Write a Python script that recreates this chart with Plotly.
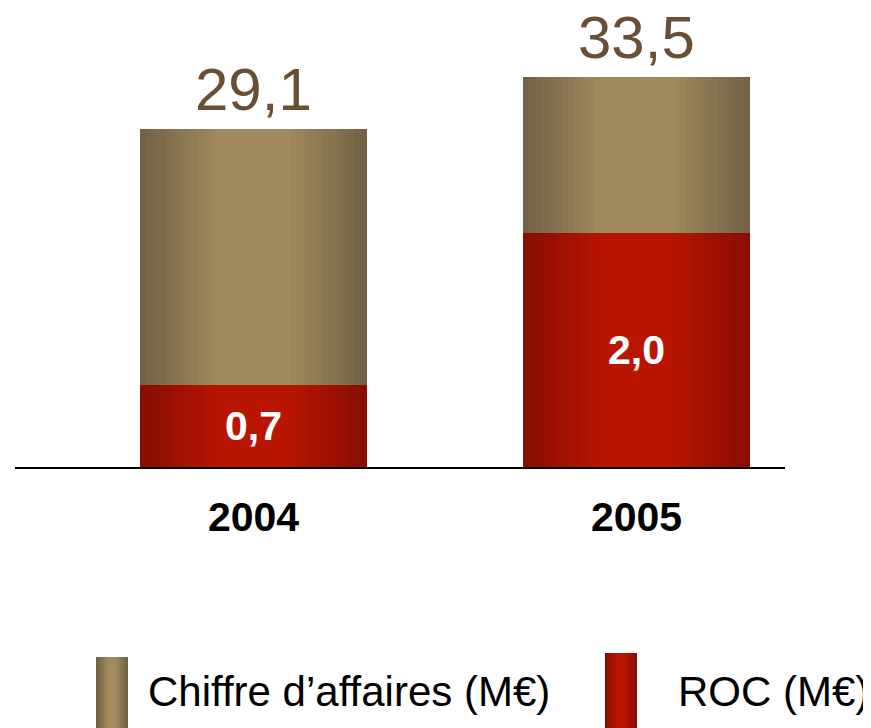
import plotly.graph_objects as go

# Données
annees = ["2004", "2005"]
chiffre_affaires = [29.1, 33.5]
roc = [0.7, 2.0]
labels_ca = ["29,1", "33,5"]
labels_roc = ["0,7", "2,0"]

# Style
LARGEUR = 0.593
N_COUCHES = 16
TAN_BORD, TAN_CENTRE = "#736245", "#a18a5d"
ROUGE_BORD, ROUGE_CENTRE = "#890d02", "#b91503"
POLICE = "Liberation Sans, Arial, sans-serif"

# La page décale la figure de 8 px (marge du body) : on compense ici
DECALAGE = 8
BASE_PX = 467          # ligne de base dans la fenêtre
GAUCHE_PX, DROITE_PX = 15, 785
HAUT_TRACE = BASE_PX - DECALAGE


def melange(c1, c2, t):
    a = [int(c1[i:i + 2], 16) for i in (1, 3, 5)]
    b = [int(c2[i:i + 2], 16) for i in (1, 3, 5)]
    return "rgb({},{},{})".format(*[round(x + (y - x) * t) for x, y in zip(a, b)])


x = list(range(len(annees)))
fig = go.Figure()

# Effet cylindre : couches superposées de plus en plus étroites et claires
for serie, axe, bord, centre in [(chiffre_affaires, "y", TAN_BORD, TAN_CENTRE),
                                 (roc, "y2", ROUGE_BORD, ROUGE_CENTRE)]:
    for k in range(N_COUCHES):
        t = k / (N_COUCHES - 1)
        fig.add_trace(go.Bar(
            x=x, y=serie, yaxis=axe, width=LARGEUR * (1 - 0.85 * t),
            marker=dict(color=melange(bord, centre, min(1, t * 1.25)), line=dict(width=0)),
            showlegend=False, hoverinfo="skip",
        ))

# Valeurs du ROC, au milieu des barres rouges
fig.add_trace(go.Bar(
    x=x, y=roc, yaxis="y2", width=LARGEUR, text=labels_roc,
    textposition="inside", insidetextanchor="middle", constraintext="none",
    textfont=dict(family=POLICE, size=41, color="white", weight="bold"),
    marker=dict(color="rgba(0,0,0,0)", line=dict(width=0)), showlegend=False,
))


def px_x(p):
    return (p - GAUCHE_PX) / (DROITE_PX - GAUCHE_PX)


def px_y(p):
    return (BASE_PX - p) / HAUT_TRACE


# Valeurs du chiffre d'affaires au-dessus des barres
annotations = [
    dict(text=lab, x=xi, y=v, xref="x", yref="y", yanchor="bottom", yshift=4,
         showarrow=False, font=dict(family=POLICE, size=60, color="#6a4f34"))
    for xi, v, lab in zip(x, chiffre_affaires, labels_ca)
]

# Légende personnalisée (grandes pastilles dégradées)
formes = []
for gauche, haut, bord, centre in [(96, 657, TAN_BORD, TAN_CENTRE), (605, 653, ROUGE_BORD, ROUGE_CENTRE)]:
    n = 6
    for k in range(n):
        t = k / (n - 1)
        marge = 16 * t * 0.85
        formes.append(dict(
            type="rect", xref="paper", yref="paper",
            x0=px_x(gauche + marge), x1=px_x(gauche + 32 - marge),
            y0=px_y(740), y1=px_y(haut),
            fillcolor=melange(bord, centre, min(1, t * 1.25)), line=dict(width=0), layer="above",
        ))

annotations += [
    dict(text="Chiffre d’affaires (M€)", xref="paper", yref="paper", x=px_x(146), y=px_y(691),
         xanchor="left", yanchor="middle", showarrow=False, font=dict(family=POLICE, size=42, color="black")),
    dict(text="ROC (M€)", xref="paper", yref="paper", x=px_x(676), y=px_y(691),
         xanchor="left", yanchor="middle", showarrow=False, font=dict(family=POLICE, size=42, color="black")),
]

fig.update_layout(
    width=871, height=728,
    margin=dict(l=GAUCHE_PX - DECALAGE, r=871 - (DROITE_PX - DECALAGE), t=0, b=728 - HAUT_TRACE),
    barmode="overlay", bargap=0,
    plot_bgcolor="white", paper_bgcolor="white",
    xaxis=dict(
        range=[-0.6227, 1.3877], tickvals=x, ticktext=annees,
        tickfont=dict(family=POLICE, size=41, color="black", weight="bold"),
        ticks="", ticklabelstandoff=13, showgrid=False, zeroline=False,
        showline=True, linecolor="black", linewidth=2,
    ),
    yaxis=dict(range=[0, HAUT_TRACE / 11.63], visible=False, showgrid=False),
    yaxis2=dict(range=[0, HAUT_TRACE / 117.0], visible=False, overlaying="y", showgrid=False),
    shapes=formes,
    annotations=annotations,
)

fig.write_html("out.html")
